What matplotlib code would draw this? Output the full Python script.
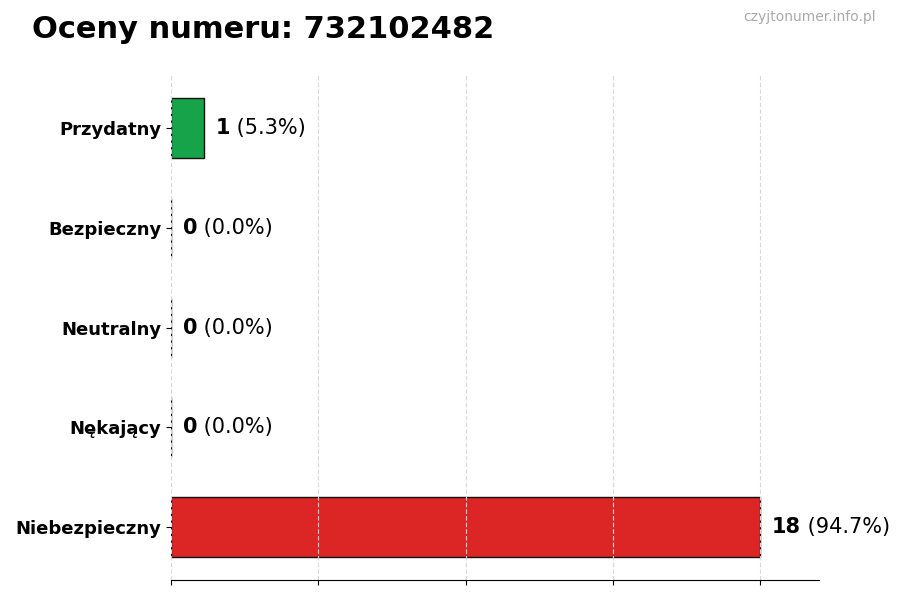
import matplotlib
matplotlib.use('Agg')
import matplotlib.pyplot as plt

categories = ['Przydatny', 'Bezpieczny', 'Neutralny', 'Nękający', 'Niebezpieczny']
counts = [1, 0, 0, 0, 18]
colors = ['#16a34a', '#9ca3af', '#3b82f6', '#f59e0b', '#dc2626']
number = '732102482'

total = sum(counts)
ypos = list(range(len(categories)))[::-1]

fig = plt.figure(figsize=(9, 6), dpi=100)
ax = fig.add_axes([0.19, 0.033, 0.72, 0.842])

ax.barh(ypos, counts, height=0.6, color=colors, edgecolor='#111111', linewidth=1)
ax.set_yticks(ypos)
ax.set_yticklabels(categories, fontsize=13, fontweight='bold')

xmax = max(counts)
ax.set_xlim(0, xmax * 1.1)
ax.set_xticks([xmax * i / 4 for i in range(5)])
ax.set_xticklabels([])
ax.grid(axis='x', linestyle=(0, (4, 2)), color='#d8d8d8', linewidth=0.8)

for s in ['top', 'right', 'left']:
    ax.spines[s].set_visible(False)

for y, c in zip(ypos, counts):
    pct = c / total * 100
    t = ax.text(c + xmax * 0.02, y, str(c), fontsize=15, fontweight='bold', va='center', ha='left')
    ax.annotate(f' ({pct:.1f}%)', xy=(1, 0.5), xycoords=t, fontsize=15, va='center', ha='left')

fig.text(0.035, 0.95, f'Oceny numeru: {number}', fontsize=22, fontweight='bold', va='center', ha='left')
fig.text(0.973, 0.972, 'czyjtonumer.info.pl', fontsize=10, color='#aaaaaa', va='center', ha='right')

fig.savefig('out.png', dpi=100)
